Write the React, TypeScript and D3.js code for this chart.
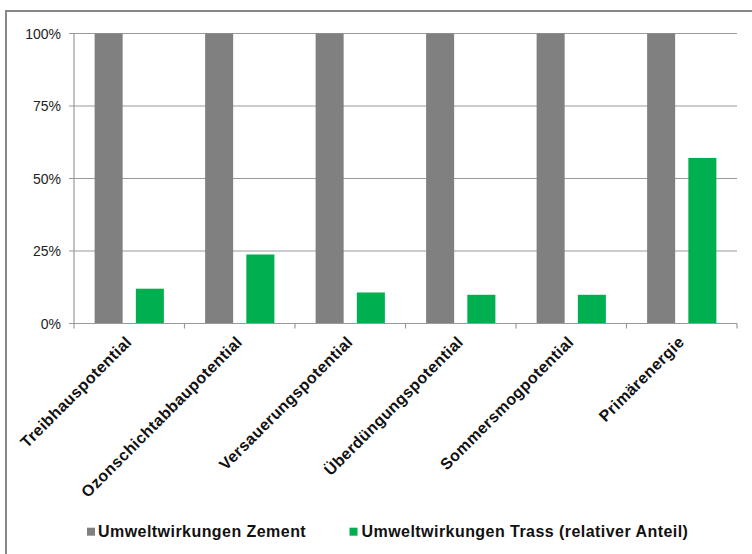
import React from "react";
import * as d3 from "d3";

const categories = [
  "Treibhauspotential",
  "Ozonschichtabbaupotential",
  "Versauerungspotential",
  "Überdüngungspotential",
  "Sommersmogpotential",
  "Primärenergie",
];
const seriesNames = ["Umweltwirkungen Zement", "Umweltwirkungen Trass (relativer Anteil)"];
const zementValues = [1, 1, 1, 1, 1, 1];
const trassValues = [0.12, 0.238, 0.107, 0.099, 0.099, 0.571];
const yTicks = [0, 0.25, 0.5, 0.75, 1];
const colors = ["#808080", "#00B050"];

const W = 752;
const H = 554;
const plot = { left: 74, right: 737, top: 33.5, bottom: 323.5 };
const font = "'Liberation Sans', Arial, sans-serif";

export default function App() {
  const x = d3.scaleBand<string>().domain(categories).range([plot.left, plot.right]).padding(0);
  const inner = d3
    .scaleBand<number>()
    .domain([0, 1])
    .range([0, x.bandwidth()])
    .paddingInner(0.32)
    .paddingOuter(0.5);
  const y = d3.scaleLinear().domain([0, 1]).range([plot.bottom, plot.top]);
  const series = [zementValues, trassValues];
  const boundaries = d3.range(categories.length + 1).map((i) => plot.left + i * x.step());

  return (
    <svg
      width={W}
      height={H}
      style={{ position: "absolute", left: 0, top: 0, background: "#fff" }}
      fontFamily={font}
    >
      <rect x={0} y={0} width={W} height={H} fill="#fff" />
      <rect x={6} y={11} width={W + 20} height={H + 20} fill="none" stroke="#878787" strokeWidth={2} />

      {/* gridlines and y axis labels */}
      {yTicks.map((t) => (
        <g key={t}>
          <line x1={plot.left - 5} x2={plot.right} y1={y(t)} y2={y(t)} stroke="#9a9a9a" strokeWidth={1.2} />
          <text x={61} y={y(t) + 5} textAnchor="end" fontSize={14} fill="#222">
            {d3.format(".0%")(t)}
          </text>
        </g>
      ))}

      {/* bars */}
      {series.map((vals, si) =>
        categories.map((c, ci) => (
          <rect
            key={`${si}-${ci}`}
            x={(x(c) as number) + (inner(si) as number)}
            width={inner.bandwidth()}
            y={y(vals[ci])}
            height={y(0) - y(vals[ci])}
            fill={colors[si]}
          />
        ))
      )}

      {/* axes */}
      <line x1={plot.left} x2={plot.left} y1={plot.top} y2={plot.bottom} stroke="#9a9a9a" strokeWidth={1.2} />
      <line x1={plot.left} x2={plot.right} y1={plot.bottom} y2={plot.bottom} stroke="#9a9a9a" strokeWidth={1.2} />
      {boundaries.map((bx, i) => (
        <line key={i} x1={bx} x2={bx} y1={plot.bottom} y2={plot.bottom + 5} stroke="#9a9a9a" strokeWidth={1.2} />
      ))}

      {/* category labels */}
      {categories.map((c) => {
        const cx = (x(c) as number) + x.bandwidth() / 2 + 3.5;
        const cy = plot.bottom + 19.5;
        return (
          <text
            key={c}
            transform={`translate(${cx},${cy}) rotate(-45)`}
            textAnchor="end"
            fontSize={16}
            fontWeight="bold"
            letterSpacing={0.4}
            fill="#111"
          >
            {c}
          </text>
        );
      })}

      {/* legend */}
      {[
        { sx: 87, tx: 98 },
        { sx: 349.5, tx: 361.5 },
      ].map((p, i) => (
        <g key={i}>
          <rect x={p.sx} y={527.7} width={8} height={8} fill={colors[i]} />
          <text x={p.tx} y={536.7} fontSize={16} fontWeight="bold" letterSpacing={0.45} fill="#111">
            {seriesNames[i]}
          </text>
        </g>
      ))}
    </svg>
  );
}
